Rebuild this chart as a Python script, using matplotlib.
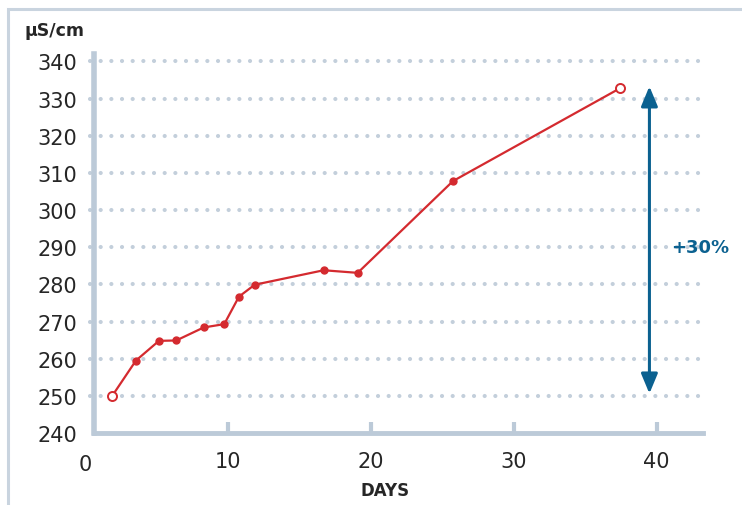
import matplotlib.pyplot as plt
from matplotlib.patches import Rectangle, FancyArrowPatch

# Conductivity over time
days = [1.9, 3.56, 5.17, 6.38, 8.3, 9.74, 10.77, 11.87, 16.7, 19.08, 25.75, 37.45]
conductivity = [250.0, 259.5, 264.8, 264.9, 268.4, 269.3, 276.7, 279.9, 283.8, 283.1, 307.8, 332.8]

x_ticks = [10, 20, 30, 40]
y_ticks = [240, 250, 260, 270, 280, 290, 300, 310, 320, 330, 340]
grid_levels = [250, 260, 270, 280, 290, 300, 310, 320, 330, 340]

arrow_day = 39.5
arrow_range = [250.6, 333.3]
arrow_label = "+30%"

RED = "#d42a2f"
BLUE = "#0b6190"
AXIS = "#bccad8"
DOTS = "#c3cfdb"
TEXT = "#262626"

W, H = 742, 506
fig = plt.figure(figsize=(W / 100, H / 100), dpi=100)
ax = fig.add_axes([93.8 / W, (H - 434) / H, (703 - 93.8) / W, (434 - 55) / H])

# outer frame (top and left edges visible)
fig.patches.append(Rectangle((8 / W, -0.1), 1.2, (H - 10) / H + 0.1,
                             transform=fig.transFigure, fill=False,
                             edgecolor="#c9d4df", linewidth=2.2))

# dotted grid
for lvl in grid_levels:
    ax.plot([0.34, 43.0], [lvl, lvl], color=DOTS, linewidth=3.0,
            linestyle=(0, (0.01, 2.55)), dash_capstyle="round",
            clip_on=False, zorder=1)

# spines
for s in ["top", "right"]:
    ax.spines[s].set_visible(False)
ax.spines["left"].set_color(AXIS)
ax.spines["left"].set_linewidth(4)
ax.spines["bottom"].set_color(AXIS)
ax.spines["bottom"].set_linewidth(3.5)
ax.spines["left"].set_zorder(2)

ax.set_xticks(x_ticks)
ax.set_yticks(y_ticks)
ax.set_xlim(0.61, 43.25)
ax.set_ylim(240, 342)
ax.tick_params(axis="x", direction="in", length=8, width=3, color=AXIS,
               pad=13, labelsize=15, labelcolor=TEXT)
ax.tick_params(axis="y", length=0, pad=12, labelsize=15, labelcolor=TEXT)
# "0" label lies left of the spine in the reference
ax.text(0, -0.055, "0", transform=ax.get_xaxis_transform(), ha="center",
        va="top", fontsize=15, color=TEXT, clip_on=False)

# data line
ax.plot(days, conductivity, color=RED, linewidth=1.6, zorder=3)
ax.plot(days[1:-1], conductivity[1:-1], "o", color=RED, markersize=5, zorder=4)
ax.plot([days[0], days[-1]], [conductivity[0], conductivity[-1]], "o",
        markerfacecolor="white", markeredgecolor=RED, markeredgewidth=1.4,
        markersize=6.5, zorder=5, clip_on=False)

# +30% arrow
arr = FancyArrowPatch((arrow_day, arrow_range[0]), (arrow_day, arrow_range[1]),
                      arrowstyle="<|-|>,head_length=1.2,head_width=0.5",
                      mutation_scale=10, color=BLUE, linewidth=2.2,
                      shrinkA=0, shrinkB=0, zorder=6)
ax.add_patch(arr)
fig.text(700 / W, 1 - 248 / H, arrow_label, ha="center", va="center",
         fontsize=13, fontweight="bold", color=BLUE)

fig.text(25 / W, 1 - 31 / H, "µS/cm", ha="left", va="center",
         fontsize=12.5, fontweight="bold", color=TEXT)
fig.text(385 / W, 1 - 491 / H, "DAYS", ha="center", va="center",
         fontsize=12, fontweight="bold", color=TEXT)

fig.savefig("out.png", dpi=100)
